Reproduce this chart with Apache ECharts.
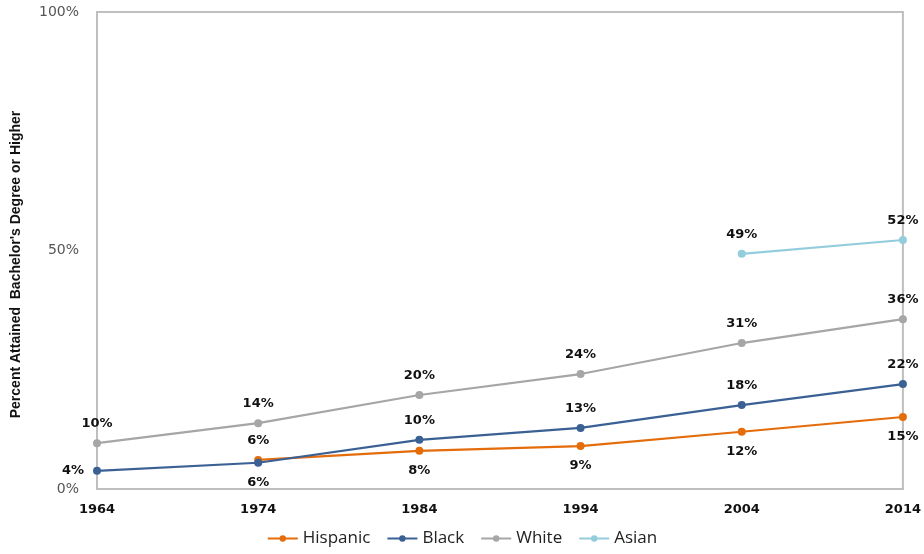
<!DOCTYPE html>
<html>
<head>
<meta charset="utf-8">
<script src="https://cdn.jsdelivr.net/npm/echarts@6/dist/echarts.min.js"></script>
<style>
  html, body { margin: 0; padding: 0; background: #fff; }
  #chart { width: 924px; height: 554px; }
</style>
</head>
<body>
<div id="chart"></div>
<script>
const years = ['1964', '1974', '1984', '1994', '2004', '2014'];
const hispanic = [null, 6.1, 8.0, 9.0, 12.0, 15.1];
const black = [3.8, 5.5, 10.3, 12.8, 17.6, 22.0];
const white = [9.6, 13.8, 19.7, 24.1, 30.6, 35.6];
const asian = [null, null, null, null, 49.3, 52.2];
const yTicks = [0, 50, 100];

// label position per point, like the original
const hispanicPos = ['bottom', 'top', 'bottom', 'bottom', 'bottom', 'bottom'];
const blackPos = ['left', 'bottom', 'top', 'top', 'top', 'top'];

const labelFont = {
  fontFamily: 'DejaVu Sans',
  fontWeight: 'bold',
  fontSize: 13,
  color: '#111'
};

function withPos(values, pos) {
  return values.map(function (v, i) {
    if (v === null) return null;
    return { value: v, label: { position: pos[i] } };
  });
}

function makeSeries(name, color, data, defaultPos) {
  return {
    name: name,
    type: 'line',
    data: data,
    symbol: 'circle',
    symbolSize: 8,
    connectNulls: false,
    lineStyle: { color: color, width: 2.2 },
    itemStyle: { color: color },
    label: Object.assign({
      show: true,
      position: defaultPos,
      distance: 9,
      formatter: function (p) { return Math.round(p.value) + '%'; }
    }, labelFont)
  };
}

const chart = echarts.init(document.getElementById('chart'));
chart.setOption({
  animation: false,
  grid: {
    left: 97, right: 19, top: 12, bottom: 65,
    show: true,
    borderColor: '#bfbfbf',
    borderWidth: 2
  },
  legend: {
    bottom: 2,
    left: 'center',
    itemWidth: 30,
    itemHeight: 8,
    itemGap: 16,
    textStyle: { fontFamily: 'Open Sans', fontSize: 17, color: '#222' },
    data: ['Hispanic', 'Black', 'White', 'Asian']
  },
  xAxis: {
    type: 'category',
    boundaryGap: false,
    data: years,
    axisLine: { lineStyle: { color: '#bfbfbf', width: 2 } },
    axisTick: { show: false },
    axisLabel: {
      margin: 14,
      fontFamily: 'DejaVu Sans',
      fontWeight: 'bold',
      fontSize: 13,
      color: '#111'
    }
  },
  yAxis: {
    type: 'value',
    min: yTicks[0],
    max: yTicks[yTicks.length - 1],
    interval: 50,
    name: "Percent Attained  Bachelor's Degree or Higher",
    nameLocation: 'middle',
    nameGap: 74,
    nameTextStyle: {
      fontFamily: 'Liberation Sans',
      fontWeight: 'bold',
      fontSize: 14,
      color: '#111',
      padding: [0, 28, 0, 0]
    },
    axisLine: { show: true, lineStyle: { color: '#bfbfbf', width: 2 } },
    axisTick: { show: false },
    splitLine: { show: false },
    axisLabel: {
      margin: 18,
      fontFamily: 'DejaVu Sans',
      fontSize: 14,
      color: '#555',
      formatter: '{value}%'
    }
  },
  series: [
    makeSeries('Hispanic', '#e46c0a', withPos(hispanic, hispanicPos), 'bottom'),
    makeSeries('Black', '#3a6094', withPos(black, blackPos), 'top'),
    makeSeries('White', '#a6a6a6', white, 'top'),
    makeSeries('Asian', '#93cddd', asian, 'top')
  ]
});
</script>
</body>
</html>
